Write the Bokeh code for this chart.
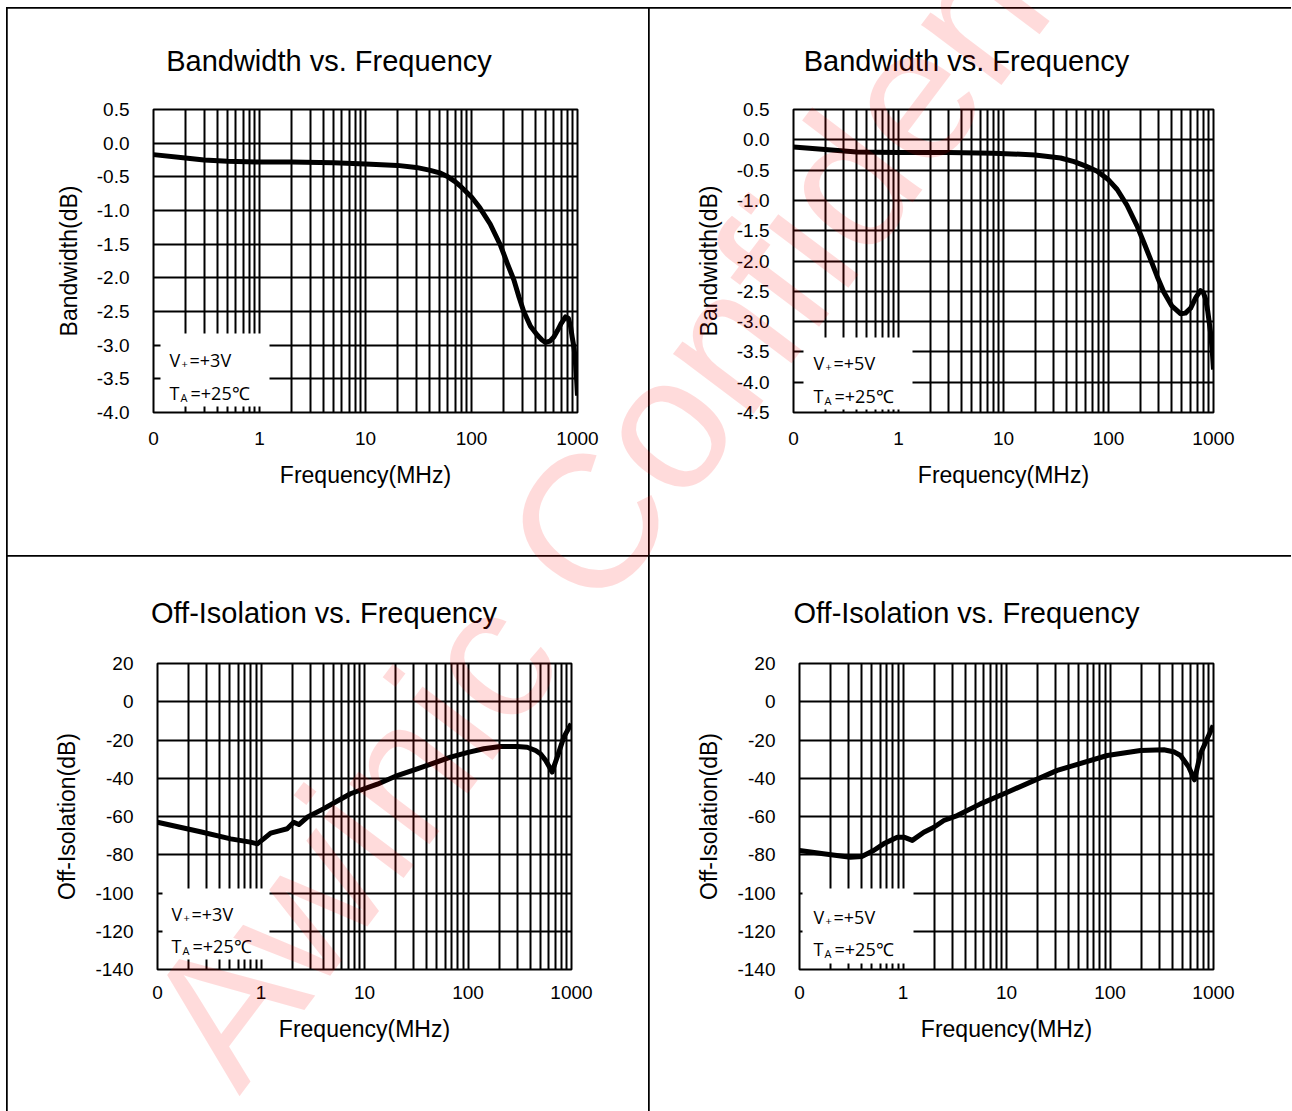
from bokeh.plotting import figure
from bokeh.layouts import column, row
from bokeh.models import (FixedTicker, Range1d, Label, BoxAnnotation, NumeralTickFormatter,
                          Div, Spacer)
from bokeh.embed import file_html
from bokeh.resources import INLINE

# ---------------- data ----------------
bw3_freq = [0.1, 0.2, 0.3, 0.5, 1, 2, 5, 10, 20, 30, 40, 50, 60, 70, 80, 100, 120,
            150, 188, 217, 251, 280, 311, 360, 417, 460, 499, 550, 598, 650, 700,
            771, 820, 860, 891, 930, 957, 980, 1000]
bw3_db = [-0.17, -0.22, -0.25, -0.27, -0.28, -0.28, -0.29, -0.31, -0.33, -0.36,
          -0.40, -0.44, -0.50, -0.57, -0.65, -0.80, -0.96, -1.20, -1.52, -1.78,
          -2.03, -2.28, -2.50, -2.72, -2.85, -2.92, -2.96, -2.94, -2.88, -2.78,
          -2.68, -2.58, -2.60, -2.72, -2.88, -3.05, -3.27, -3.50, -3.75]

bw5_freq = [0.1, 0.2, 0.4, 1, 3, 8, 20, 35, 47, 60, 78, 100, 121, 150, 187, 220,
            251, 290, 336, 400, 485, 540, 604, 680, 752, 800, 839, 880, 936, 970, 1000]
bw5_db = [-0.12, -0.16, -0.20, -0.21, -0.21, -0.22, -0.25, -0.30, -0.36, -0.43,
          -0.52, -0.66, -0.82, -1.08, -1.42, -1.72, -1.97, -2.25, -2.51, -2.74,
          -2.87, -2.86, -2.78, -2.60, -2.49, -2.52, -2.62, -2.82, -3.17, -3.45, -3.79]

iso3_freq = [0.1, 0.26, 0.51, 0.79, 0.92, 1.06, 1.24, 1.5, 1.79, 2.07, 2.32, 2.79,
             4.0, 7.3, 13.3, 20.7, 32.3, 67.8, 100, 142, 206, 300, 373, 450, 501,
             560, 610, 650, 680, 727, 843, 993]
iso3_db = [-63.0, -68.0, -71.7, -73.4, -74.3, -71.7, -68.7, -67.5, -66.4, -63.0,
           -64.2, -60.4, -56.0, -48.1, -43.1, -38.6, -35.1, -29.0, -26.5, -24.6,
           -23.4, -23.4, -23.8, -25.5, -27.2, -30.5, -34.0, -36.8, -33.5, -29.0,
           -18.5, -11.5]

iso5_freq = [0.1, 0.17, 0.31, 0.40, 0.52, 0.65, 0.88, 1.02, 1.23, 1.59, 1.99, 2.48,
             3.34, 5.6, 10.2, 30.9, 94, 197, 331, 420, 480, 578, 655, 748, 993]
iso5_db = [-77.8, -79.5, -81.3, -80.9, -77.8, -74.3, -70.8, -70.8, -72.5, -68.2,
           -65.6, -62.1, -59.5, -53.4, -47.3, -35.9, -28.1, -25.5, -25.1, -26.3,
           -28.1, -34.2, -40.8, -27.2, -12.4]

x_major_ticks = [0.1, 1, 10, 100, 1000]
x_major_labels = ["0", "1", "10", "100", "1000"]
x_grid_mult = [1, 2, 3, 4, 5, 6, 7, 8, 9]
x_grid_decades = [0.1, 1, 10, 100]

bw3_yticks = [0.5, 0.0, -0.5, -1.0, -1.5, -2.0, -2.5, -3.0, -3.5, -4.0]
bw5_yticks = [0.5, 0.0, -0.5, -1.0, -1.5, -2.0, -2.5, -3.0, -3.5, -4.0, -4.5]
iso_yticks = [20, 0, -20, -40, -60, -80, -100, -120, -140]

titles = ["Bandwidth vs. Frequency", "Bandwidth vs. Frequency",
          "Off-Isolation vs. Frequency", "Off-Isolation vs. Frequency"]
ylabels = ["Bandwidth(dB)", "Bandwidth(dB)", "Off-Isolation(dB)", "Off-Isolation(dB)"]
xlabel = "Frequency(MHz)"
volt_labels = ["=+3V", "=+5V", "=+3V", "=+5V"]
temp_label = "=+25\u2103"
watermark = "Awinic Confidential"

# ---------------- layout (page pixel positions) ----------------
PAD_X, PAD_Y = 7, 8
PAGE_W, PAGE_H = 1291, 1111
COLW = [642, 642]
ROWH = [548, 558]
ORIGX = [PAD_X, PAD_X + COLW[0]]
ORIGY = [PAD_Y, PAD_Y + ROWH[0]]

LABEL_FONT = "Liberation Sans"
NOTE_FONT = "Open Sans"

cells = [
    dict(r=0, c=0, frame=(153, 109, 577, 412), yr=(-4.0, 0.5), yt=bw3_yticks, fmt="0.0",
         fx=bw3_freq, fy=bw3_db, box=(160, 333, 269, 406), tx=169, tb=(359, 392),
         tcx=328.5, tby=60, xstand=19),
    dict(r=0, c=1, frame=(793, 109, 1213, 415), yr=(-4.5, 0.5), yt=bw5_yticks, fmt="0.0",
         fx=bw5_freq, fy=bw5_db, box=(803, 337, 912, 409), tx=813, tb=(362, 395),
         tcx=966, tby=60, xstand=19),
    dict(r=1, c=0, frame=(157, 663, 571, 969), yr=(-140, 20), yt=iso_yticks, fmt="0",
         fx=iso3_freq, fy=iso3_db, box=(162, 888, 269, 959), tx=171, tb=(913, 945),
         tcx=323.5, tby=612, xstand=16),
    dict(r=1, c=1, frame=(799, 663, 1213, 969), yr=(-140, 20), yt=iso_yticks, fmt="0",
         fx=iso5_freq, fy=iso5_db, box=(802, 888, 913, 963), tx=813, tb=(916, 948),
         tcx=966, tby=612, xstand=16),
]

figs = []
for i, cfg in enumerate(cells):
    ox, oy = ORIGX[cfg["c"]], ORIGY[cfg["r"]]
    W, H = COLW[cfg["c"]], ROWH[cfg["r"]]
    fl, ft, fr, fb = cfg["frame"]
    p = figure(width=W, height=H, x_axis_type="log",
               x_range=Range1d(0.1, 1000), y_range=Range1d(*cfg["yr"]),
               toolbar_location=None, output_backend="svg", title=None,
               min_border_left=fl - ox, min_border_right=ox + W - fr,
               min_border_top=ft - oy, min_border_bottom=oy + H - fb)
    p.background_fill_color = "white"
    p.border_fill_color = "white"
    p.outline_line_color = "black"
    p.outline_line_width = 2
    p.styles = {"outline": "2px solid black", "outline-offset": "-1px"}

    xa, ya = p.xaxis[0], p.yaxis[0]
    xa.ticker = FixedTicker(ticks=x_major_ticks)
    xa.major_label_overrides = dict(zip(x_major_ticks, x_major_labels))
    ya.ticker = FixedTicker(ticks=cfg["yt"])
    ya.formatter = NumeralTickFormatter(format=cfg["fmt"])
    for ax in (xa, ya):
        ax.axis_line_color = None
        ax.major_tick_line_color = None
        ax.minor_tick_line_color = None
        ax.major_tick_out = 0
        ax.major_tick_in = 0
        ax.major_label_text_font = LABEL_FONT
        ax.major_label_text_font_size = "19px"
        ax.major_label_text_color = "black"
        ax.axis_label_text_font = LABEL_FONT
        ax.axis_label_text_font_size = "23px"
        ax.axis_label_text_font_style = "normal"
        ax.axis_label_text_color = "black"
    xa.axis_label = xlabel
    ya.axis_label = ylabels[i]
    xa.major_label_standoff = cfg["xstand"]
    xa.axis_label_standoff = 14
    ya.major_label_standoff = 24
    ya.axis_label_standoff = 12

    p.xgrid.ticker = FixedTicker(ticks=[m * d for d in x_grid_decades for m in x_grid_mult] + [1000])
    p.ygrid.ticker = FixedTicker(ticks=cfg["yt"])
    for g in (p.xgrid[0], p.ygrid[0]):
        g.grid_line_color = "black"
        g.grid_line_width = 2

    p.line(cfg["fx"], cfg["fy"], line_color="black", line_width=5, line_join="round")

    # condition note box
    bx0, by0, bx1, by1 = cfg["box"]
    p.add_layout(BoxAnnotation(left=bx0 - ox, right=bx1 - ox, top=by0 - oy, bottom=by1 - oy,
                               left_units="canvas", right_units="canvas",
                               top_units="canvas", bottom_units="canvas",
                               fill_color="white", fill_alpha=1.0, line_color=None))
    tx = cfg["tx"] - ox
    b1, b2 = cfg["tb"][0] - oy, cfg["tb"][1] - oy

    def note(x, y, t, size="18px"):
        p.add_layout(Label(x=x, y=y, x_units="canvas", y_units="canvas", text=t,
                           text_font=NOTE_FONT, text_font_size=size, text_color="black",
                           text_align="left", text_baseline="alphabetic"))
    note(tx, b1, "V")
    note(tx + 12, b1 + 4, "+", "11px")
    note(tx + 20, b1, volt_labels[i])
    note(tx, b2, "T")
    note(tx + 11, b2 + 5, "A", "11px")
    note(tx + 21, b2, temp_label)

    # title (placed in the top panel so it is not clipped to the frame)
    p.add_layout(Label(x=cfg["tcx"] - ox, y=cfg["tby"] - oy, x_units="canvas", y_units="canvas",
                       text=titles[i], text_font=LABEL_FONT, text_font_size="29px",
                       text_color="black", text_align="center", text_baseline="alphabetic"),
                 "above")
    figs.append(p)

# watermark overlay
WM_X, WM_Y, WM_ANGLE, WM_SIZE = 235, 1092, 53, 190
base = int(round(WM_SIZE * 0.85))
wm = Div(text=watermark, width=1900, height=WM_SIZE,
         styles={"position": "absolute", "left": f"{WM_X}px", "top": f"{WM_Y - base}px",
                 "transform": f"rotate(-{WM_ANGLE}deg)",
                 "transform-origin": f"0px {base}px",
                 "font-family": LABEL_FONT, "font-size": f"{WM_SIZE}px", "line-height": "1",
                 "color": "rgba(255,0,0,0.14)", "white-space": "nowrap",
                 "pointer-events": "none", "z-index": "10"})

layout = column(
    Spacer(width=PAD_X + sum(COLW), height=PAD_Y),
    row(Spacer(width=PAD_X, height=ROWH[0]), figs[0], figs[1]),
    row(Spacer(width=PAD_X, height=ROWH[1]), figs[2], figs[3]),
    wm,
    width=PAGE_W, height=PAGE_H,
    styles={"position": "relative", "overflow": "hidden"},
)
open("out.html", "w").write(file_html(layout, INLINE, title="Bandwidth and Off-Isolation vs. Frequency"))
